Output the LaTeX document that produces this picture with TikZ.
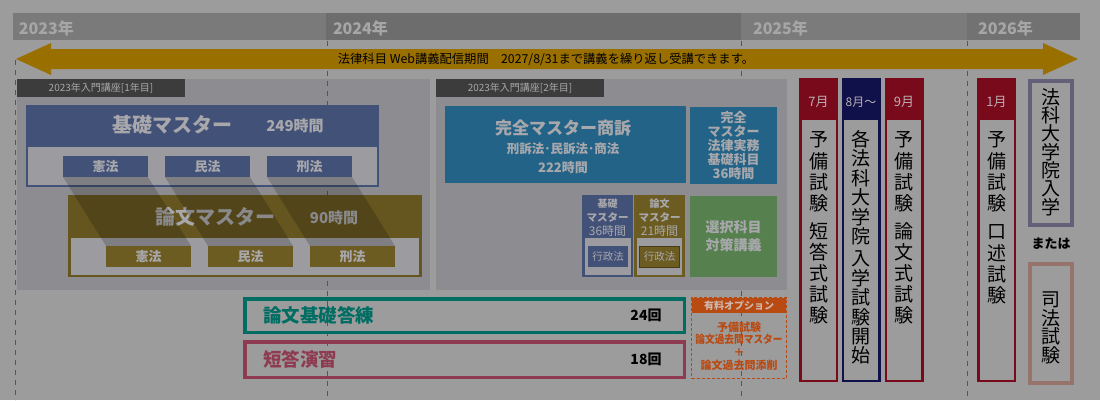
\documentclass[tikz,border=0pt]{standalone}
\usepackage{fontspec}
\setmainfont{Noto Sans CJK JP}
\usetikzlibrary{calc}
\definecolor{bgc}{HTML}{9C9C9C}
\definecolor{ya}{HTML}{7A7A7A}
\definecolor{yb}{HTML}{6D6D6D}
\definecolor{yc}{HTML}{7B7B7B}
\definecolor{yd}{HTML}{727272}
\definecolor{ytxt}{HTML}{A6A6A6}
\definecolor{dashc}{HTML}{555555}
\definecolor{arrc}{HTML}{997000}
\definecolor{panelc}{HTML}{8D8D91}
\definecolor{labc}{HTML}{3C3C3C}
\definecolor{ltxt}{HTML}{A8A8AC}
\definecolor{kblue}{HTML}{425177}
\definecolor{stripc}{HTML}{9C9CA0}
\definecolor{olive}{HTML}{65551F}
\definecolor{olsub}{HTML}{6D5C22}
\definecolor{kanz}{HTML}{226387}
\definecolor{greenc}{HTML}{56804E}
\definecolor{tealc}{HTML}{006D63}
\definecolor{pinkc}{HTML}{8E3B52}
\definecolor{orc}{HTML}{B94A12}
\definecolor{ohd}{HTML}{CDB8B0}
\definecolor{redc}{HTML}{780A1C}
\definecolor{navyc}{HTML}{10104A}
\definecolor{hdtxt}{HTML}{BCAFB3}
\definecolor{lawc}{HTML}{656079}
\definecolor{shic}{HTML}{97746B}
\newcommand\vchars[5]{%
  \foreach \ch [count=\k] in {#5} {\node[vch] (#1\k) at (#2, #3+#4*\k-#4) {\ch};}%
}
\begin{document}
\begin{tikzpicture}[x=1pt,y=-1pt,
  every node/.style={inner sep=0pt, outer sep=0pt},
  rbox/.style={draw=none},
  ytext/.style={text=ytxt, font=\fontsize{16}{18}\selectfont\bfseries},
  guide/.style={draw=dashc, line width=1pt, dash pattern=on 5pt off 5pt},
  labbox/.style={fill=labc, text=ltxt, font=\fontsize{10}{12}\selectfont, minimum width=168pt, minimum height=18pt},
  subj/.style={minimum width=85pt, minimum height=21pt, text=ltxt, font=\fontsize{13}{15}\selectfont\bfseries},
  bigttl/.style={text=ltxt, font=\fontsize{20}{24}\selectfont\bfseries},
  hrs/.style={text=ltxt, font=\fontsize{15}{18}\selectfont\bfseries},
  shadowfill/.style={fill=black, fill opacity=0.18},
  smt/.style={text=ltxt, font=\fontsize{10}{12}\selectfont\bfseries},
  smm/.style={text=ltxt, font=\fontsize{10.5}{12}\selectfont\bfseries},
  smh/.style={text=ltxt, font=\fontsize{12}{14}\selectfont},
  gyo/.style={minimum width=40pt, minimum height=21pt, text=ltxt, font=\fontsize{10.5}{12}\selectfont},
  colbox/.style={line width=2.5pt, fill=bgc, minimum width=36.5pt, minimum height=301.5pt},
  colhead/.style={minimum width=39pt, minimum height=42pt},
  coltxt/.style={text=hdtxt, font=\fontsize{13}{15}\selectfont},
  vch/.style={font=\fontsize{19}{21}\selectfont},
  bigbox/.style={line width=3.5pt, minimum width=439.5pt},
  bigtxt/.style={anchor=west, font=\fontsize{18.5}{22}\selectfont\bfseries},
  cnt/.style={font=\fontsize{14}{16}\selectfont\bfseries}
]
\fill[bgc] (0,0) rectangle (1100,400);
\useasboundingbox (0,0) rectangle (1100,400);

% year bar
\node[rbox, fill=ya, minimum width=313pt, minimum height=27pt] (y23) at (169.5,26.5) {};
\node[rbox, fill=yb, minimum width=415pt, minimum height=27pt] (y24) at (533.5,26.5) {};
\node[rbox, fill=yc, minimum width=226pt, minimum height=27pt] (y25) at (854,26.5) {};
\node[rbox, fill=yd, minimum width=113pt, minimum height=27pt] (y26) at (1023.5,26.5) {};
\node[ytext, anchor=west] (t23) at ($(y23.west)+(6,1.5)$) {2023年};
\node[ytext, anchor=west] (t24) at ($(y24.west)+(7,1.5)$) {2024年};
\node[ytext, anchor=west] (t25) at ($(y25.west)+(12,1.5)$) {2025年};
\node[ytext, anchor=west] (t26) at ($(y26.west)+(11,1.5)$) {2026年};

% panel 1
\node[rbox, fill=panelc, minimum width=413pt, minimum height=211pt] (p1) at (223.5,184.5) {};

% guides
\coordinate (g0a) at (15,60);  \coordinate (g0b) at (15,400);
\coordinate (g1a) at (327,41); \coordinate (g1b) at (327,400);
\coordinate (g2a) at (741,41); \coordinate (g2b) at (741,400);
\coordinate (g3a) at (967,41); \coordinate (g3b) at (967,400);
\draw[guide] (g0a) -- (g0b);
\draw[guide] (g1a) -- (g1b);
\draw[guide] (g2a) -- (g2b);
\draw[guide] (g3a) -- (g3b);

% panel 2
\node[rbox, fill=panelc, minimum width=351pt, minimum height=211pt] (p2) at (611.5,184.5) {};

% arrow
\fill[arrc] (16,59) -- (51,43) -- (51,49) -- (1043,49) -- (1043,43) -- (1078,59) -- (1043,75) -- (1043,69) -- (51,69) -- (51,75) -- cycle;
\node[font=\fontsize{12.3}{14}\selectfont] (arrtxt) at (546,59.5) {法律科目 Web講義配信期間　2027/8/31まで講義を繰り返し受講できます。};

% labels
\node[labbox] (lab1) at (101,88) {2023年入門講座[1年目]};
\node[labbox] (lab2) at (520,88) {2023年入門講座[2年目]};

% kiso master
\node[rbox, fill=kblue, minimum width=353pt, minimum height=82pt] (kiso) at (202.5,146) {};
\node[rbox, fill=stripc, minimum width=349pt, minimum height=38pt] (kstrip) at (202.5,166) {};
\node[subj, fill=kblue] (k1) at (105.5,166.5) {憲法};
\node[subj, fill=kblue] (k2) at (207.5,166.5) {民法};
\node[subj, fill=kblue] (k3) at (309.5,166.5) {刑法};
\node[bigttl] (ktitle) at (172,125) {基礎マスター};
\node[hrs] (khrs) at (295,126) {249時間};

% ronbun master
\node[rbox, fill=olive, minimum width=354pt, minimum height=82pt] (ron) at (245,236) {};
\node[rbox, fill=stripc, minimum width=348pt, minimum height=37pt] (rstrip) at (245,256.5) {};
\node[subj, fill=olsub] (r1) at (148.5,256.5) {憲法};
\node[subj, fill=olsub] (r2) at (250.5,256.5) {民法};
\node[subj, fill=olsub] (r3) at (352.5,256.5) {刑法};
\node[bigttl] (rtitle) at (215,217) {論文マスター};
\node[hrs] (rhrs) at (334,218) {90時間};

% shadows
\foreach \i in {1,2,3} {
  \fill[shadowfill] (k\i.south west) -- (k\i.south east) -- (r\i.north east) -- (r\i.north west) -- cycle;
}

% kanzen master
\node[rbox, fill=kanz, minimum width=241pt, minimum height=77pt] (kz) at (565.5,144.5) {};
\node[text=ltxt, font=\fontsize{17}{20}\selectfont\bfseries] (kzt) at (563,128) {完全マスター商訴};
\node[text=ltxt, font=\fontsize{12.5}{15}\selectfont\bfseries] (kzs) at (563,149) {刑訴法･民訴法･商法};
\node[text=ltxt, font=\fontsize{13}{15}\selectfont\bfseries] (kzh) at (563,168) {222時間};
\node[rbox, fill=kanz, minimum width=87pt, minimum height=77pt, align=center, text=ltxt, font=\fontsize{13}{14.2}\selectfont\bfseries] (kz2) at (733.5,145.5) {完全\\マスター\\法律実務\\基礎科目\\36時間};

% small boxes
\node[rbox, fill=kblue, minimum width=51pt, minimum height=82pt] (sk) at (607.5,236) {};
\node[rbox, fill=stripc, minimum width=46pt, minimum height=37pt] (sks) at (608,256.5) {};
\node[gyo, fill=kblue] (skg) at (608,256.5) {行政法};
\node[smt] (sk1) at (607.5,204) {基礎};
\node[smm] (sk2) at (607.5,217) {マスター};
\node[smh] (sk3) at (607.5,231) {36時間};

\node[rbox, fill=olsub, minimum width=51pt, minimum height=82pt] (sr) at (659.5,236) {};
\node[rbox, fill=stripc, minimum width=45pt, minimum height=37pt] (srs) at (659.5,256.5) {};
\node[gyo, fill=olsub, draw=olive!70!black, line width=0.8pt] (srg) at (659.5,256.5) {行政法};
\node[smt] (sr1) at (659.5,204) {論文};
\node[smm] (sr2) at (659.5,217) {マスター};
\node[smh] (sr3) at (659.5,231) {21時間};

\node[rbox, fill=greenc, minimum width=87pt, minimum height=81pt, align=center, text=ltxt, font=\fontsize{14}{18}\selectfont\bfseries] (sen) at (733.5,236.5) {選択科目\\対策講義};

% bottom boxes
\node[bigbox, draw=tealc, minimum height=33.5pt] (rt) at (464.5,315.5) {};
\node[bigtxt, text=tealc] (rtt) at (263,315.5) {論文基礎答練};
\node[cnt] (rtn) at (646,315.5) {24回};
\node[bigbox, draw=pinkc, minimum height=35.5pt] (tt) at (464.5,359.5) {};
\node[bigtxt, text=pinkc] (ttt) at (263,359) {短答演習};
\node[cnt] (ttn) at (646,359) {18回};

% option
\node[draw=orc, line width=1.3pt, dash pattern=on 3pt off 2pt, minimum width=94.7pt, minimum height=80.7pt] (opt) at (739,338) {};
\node[rbox, fill=orc, minimum width=94pt, minimum height=15pt, text=ohd, font=\fontsize{10}{11}\selectfont\bfseries] (opth) at (739,305.5) {有料オプション};
\node[align=center, text=orc, font=\fontsize{11}{12.7}\selectfont\bfseries] (optb) at (739,346) {予備試験\\\scalebox{0.88}[1]{論文過去問マスター}\\＋\\論文過去問添削};

% exam columns
\node[colbox, draw=redc] (c7) at (818.5,230) {};
\node[colhead, fill=redc] (c7h) at (818.5,99) {};
\node[coltxt] (c7t) at (818.5,102) {7月};
\vchars{c7a}{818.5}{140}{21}{予,備,試,験}
\vchars{c7b}{818.5}{231}{21}{短,答,式,試,験}

\node[colbox, draw=navyc] (c8) at (861,230) {};
\node[colhead, fill=navyc] (c8h) at (861,99) {};
\node[coltxt, font=\fontsize{12}{14}\selectfont] (c8t) at (861,102) {8月〜};
\vchars{c8a}{861}{139}{19.5}{各,法,科,大,学,院}
\vchars{c8b}{861}{259}{19.3}{入,学,試,験,開,始}

\node[colbox, draw=redc] (c9) at (904,230) {};
\node[colhead, fill=redc] (c9h) at (904,99) {};
\node[coltxt] (c9t) at (904,102) {9月};
\vchars{c9a}{904}{140}{21}{予,備,試,験}
\vchars{c9b}{904}{231}{21}{論,文,式,試,験}

\node[colbox, draw=redc] (c1) at (996.5,230) {};
\node[colhead, fill=redc] (c1h) at (996.5,99) {};
\node[coltxt] (c1t) at (996.5,102) {1月};
\vchars{c1a}{996.5}{140}{21}{予,備,試,験}
\vchars{c1b}{996.5}{232}{21}{口,述,試,験}

% final
\node[draw=lawc, line width=4pt, minimum width=42pt, minimum height=144pt] (law) at (1051,153) {};
\vchars{lawt}{1051}{97}{18.3}{法,科,大,学,院,入,学}
\node[font=\fontsize{13}{15}\selectfont\bfseries] (mata) at (1051,244) {または};
\node[draw=shic, line width=4pt, minimum width=42pt, minimum height=119pt] (shi) at (1051,323.5) {};
\vchars{shit}{1051}{300}{18.3}{司,法,試,験}
\end{tikzpicture}
\end{document}
